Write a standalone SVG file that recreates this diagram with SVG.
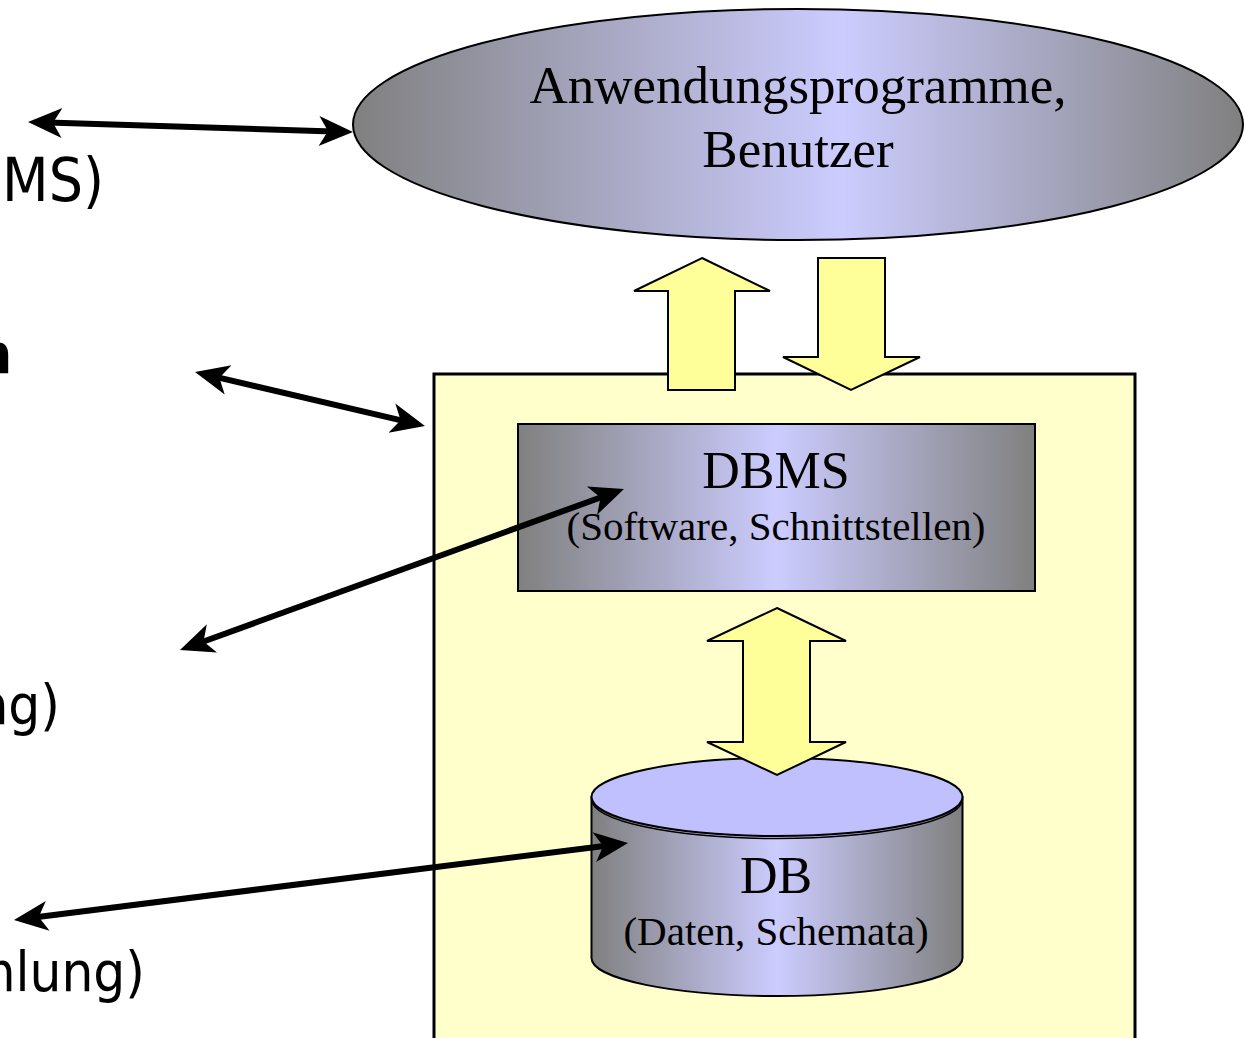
<svg xmlns="http://www.w3.org/2000/svg" width="1245" height="1038" viewBox="0 0 1245 1038">
<style>
.serif{font-family:"Liberation Serif","Times New Roman",serif;fill:#000;text-anchor:middle}
.title{font-size:52px}
.big{font-size:53px}
.sub{font-size:41px}
.side{font-family:"DejaVu Sans Condensed","DejaVu Sans",sans-serif;font-stretch:condensed;font-size:56px;fill:#000;text-anchor:end}
.blk{fill:#ffff99;stroke:#000;stroke-width:2;stroke-linejoin:miter}
.conn{stroke:#000;stroke-width:6;fill:none;marker-start:url(#ah);marker-end:url(#ah)}
</style>
<defs>
<linearGradient id="g1" x1="0" y1="0" x2="1" y2="0">
<stop offset="0" stop-color="#808080"/><stop offset="0.55" stop-color="#ccccff"/><stop offset="1" stop-color="#808080"/>
</linearGradient>
<linearGradient id="g2" x1="0" y1="0" x2="1" y2="0">
<stop offset="0" stop-color="#808080"/><stop offset="0.5" stop-color="#ccccff"/><stop offset="1" stop-color="#808080"/>
</linearGradient>
<marker id="ah" markerUnits="userSpaceOnUse" markerWidth="44" markerHeight="34" viewBox="0 -17 44 34" refX="14" refY="0" orient="auto-start-reverse">
<path d="M34,0 L0,-15 L9,0 L0,15 Z" fill="#000"/>
</marker>
</defs>

<g id="labels">
<text class="side" x="104" y="201" style="font-size:60px">MS)</text>
<text class="side" x="12" y="373" font-weight="bold">n</text>
<text class="side" x="60" y="724">ng)</text>
<text class="side" x="145" y="991">mlung)</text>
</g>

<g id="system">
<rect x="434" y="374" width="701" height="700" fill="#ffffcc" stroke="#000" stroke-width="3"/>
</g>

<g id="apps">
<ellipse cx="798" cy="124.5" rx="445" ry="115.5" fill="url(#g1)" stroke="#000" stroke-width="2"/>
<text class="serif big" x="798" y="103">Anwendungsprogramme,</text>
<text class="serif big" x="798" y="167">Benutzer</text>
</g>

<g id="dbms">
<rect x="518" y="424" width="517" height="167" fill="url(#g2)" stroke="#000" stroke-width="2"/>
<text class="serif title" x="776" y="488">DBMS</text>
<text class="serif sub" x="776" y="540">(Software, Schnittstellen)</text>
</g>

<g id="arrow-up">
<polygon class="blk" points="702,258 770,291 735,291 735,390 668,390 668,291 634,291"/>
</g>
<g id="arrow-down">
<polygon class="blk" points="818,258 885,258 885,357 920,357 851,390 783,357 818,357"/>
</g>

<g id="db">
<path d="M591.5,797 L591.5,958 A185.5,38 0 0 0 962.5,958 L962.5,797 Z" fill="url(#g2)" stroke="#000" stroke-width="2"/>
<path d="M591.5,799.5 A185.5,39 0 0 0 962.5,799.5" fill="none" stroke="#000" stroke-width="1.5"/>
<ellipse cx="777" cy="797" rx="185.5" ry="39" fill="#c0c0ff" stroke="#000" stroke-width="2"/>
<text class="serif title" x="776" y="893">DB</text>
<text class="serif sub" x="776" y="945">(Daten, Schemata)</text>
</g>

<g id="arrow-both">
<polygon class="blk" points="777,608 846,641 810,641 810,742 846,742 777,775 707,742 743,742 743,641 707,641"/>
</g>

<g id="connectors">
<line class="conn" x1="48" y1="122.6" x2="333" y2="131.4"/>
<line class="conn" x1="214.5" y1="376.6" x2="405.5" y2="421.4"/>
<line class="conn" x1="198.8" y1="643.2" x2="605.2" y2="495.8"/>
<line class="conn" x1="33.8" y1="917.5" x2="608.2" y2="845.5"/>
</g>
</svg>
